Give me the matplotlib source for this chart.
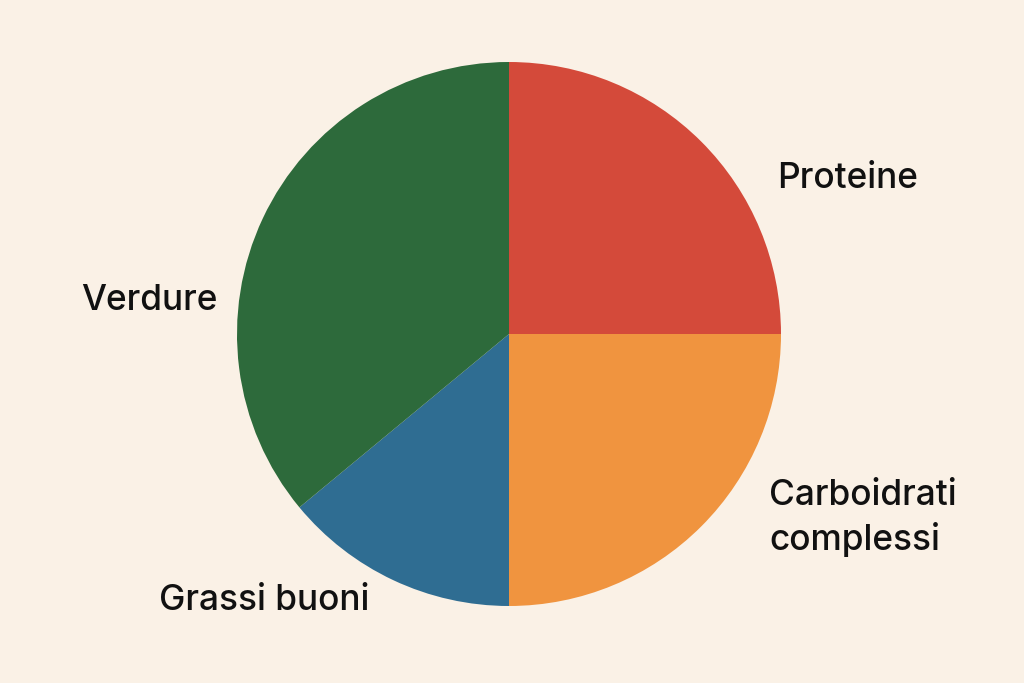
import matplotlib
matplotlib.use("Agg")
import matplotlib.pyplot as plt

labels = ["Proteine", "Carboidrati\ncomplessi", "Grassi buoni", "Verdure"]
values = [25, 25, 14, 36]
colors = ["#d44a3a", "#f0943f", "#2f6d92", "#2d6a3b"]
label_pos = [(777, 179), (769, 518), (159, 600), (81, 300)]

bg = "#faf1e6"
fig = plt.figure(figsize=(10.24, 6.83), dpi=100, facecolor=bg)
ax = fig.add_axes([0, 0, 1, 1])
ax.set_facecolor(bg)

wedges, _ = ax.pie(values, colors=colors, startangle=90, counterclock=False,
                   center=(509, 683 - 334), radius=272, frame=True)
ax.set_xlim(0, 1024)
ax.set_ylim(0, 683)
ax.set_aspect("equal")
ax.axis("off")
for w in wedges:
    w.set_linewidth(0)

for lab, (x, y) in zip(labels, label_pos):
    ax.text(x, 683 - y, lab, ha="left", va="center", fontsize=25.4,
            family="Inter", weight="medium", color="#111111", linespacing=1.38)

fig.savefig("out.png", dpi=100, facecolor=bg)
